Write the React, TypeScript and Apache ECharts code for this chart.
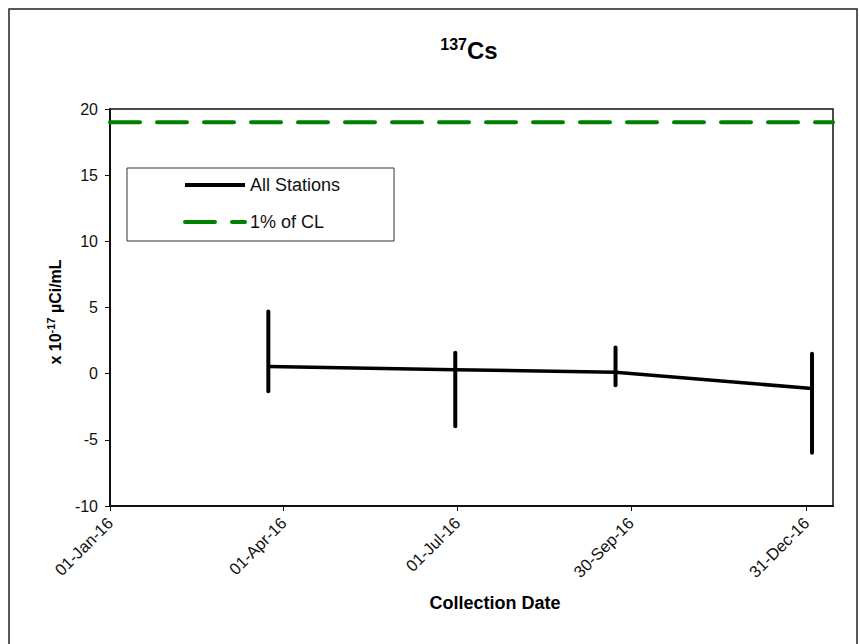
import React, { useEffect, useRef } from 'react';
import * as echarts from 'echarts';

// ---- data ----
const collectionDates = ['2016-03-24', '2016-06-30', '2016-09-22', '2017-01-03'];
const allStations = [0.55, 0.3, 0.1, -1.12];
const errorHigh = [4.7, 1.58, 1.97, 1.5];
const errorLow = [-1.33, -3.98, -0.88, -5.98];
const clLevel = 19; // 1% of CL
const tickDates = ['2016-01-01', '2016-04-01', '2016-07-01', '2016-09-30', '2016-12-31'];
const axisStart = '2016-01-01';
const axisEnd = '2017-01-14';
const yMin = -10;
const yMax = 20;
const yStep = 5;

const MONTHS = ['Jan', 'Feb', 'Mar', 'Apr', 'May', 'Jun', 'Jul', 'Aug', 'Sep', 'Oct', 'Nov', 'Dec'];
const FONT = '"Liberation Sans", Arial, sans-serif';

const toMs = (d: string) => {
  const [y, m, dd] = d.split('-').map(Number);
  return Date.UTC(y, m - 1, dd);
};
const fmt = (ms: number) => {
  const d = new Date(ms);
  return `${String(d.getUTCDate()).padStart(2, '0')}-${MONTHS[d.getUTCMonth()]}-${String(d.getUTCFullYear()).slice(2)}`;
};

export default function App() {
  const ref = useRef<HTMLDivElement>(null);
  useEffect(() => {
    if (!ref.current) return;
    const chart = echarts.init(ref.current, undefined, { renderer: 'svg' });
    const xs = collectionDates.map(toMs);
    const ticks = tickDates.map(toMs);
    const xMin = toMs(axisStart);
    const xMax = toMs(axisEnd);

    const hiddenSymbol = { color: 'rgba(0,0,0,0)', borderWidth: 0, opacity: 0 };

    const option: any = {
      animation: false,
      backgroundColor: '#fff',
      textStyle: { fontFamily: FONT },
      grid: {
        left: 110,
        top: 109,
        right: 27,
        bottom: 138,
        show: true,
        borderColor: '#111',
        borderWidth: 1.5,
      },
      legend: {
        orient: 'vertical',
        left: 127,
        top: 168,
        padding: [8, 54, 10, 56],
        itemGap: 19,
        itemWidth: 60,
        itemHeight: 14,
        borderColor: '#333',
        borderWidth: 1,
        textStyle: { fontSize: 18, color: '#111', fontFamily: FONT },
        data: [
          {
            name: 'All Stations',
            itemStyle: hiddenSymbol,
            lineStyle: { color: '#000', width: 4, type: 'solid' },
          },
          {
            name: '1% of CL',
            itemStyle: hiddenSymbol,
            lineStyle: { color: '#008000', width: 4, type: [30, 17], cap: 'round' },
          },
        ],
      },
      xAxis: {
        type: 'value',
        min: xMin,
        max: xMax,
        splitLine: { show: false },
        axisLine: { onZero: false, lineStyle: { color: '#111', width: 2 } },
        axisTick: { show: true, length: 5, customValues: ticks, lineStyle: { color: '#111', width: 1 } },
        axisLabel: {
          customValues: ticks,
          rotate: 45,
          margin: 14,
          fontSize: 16.5,
          color: '#111',
          fontFamily: FONT,
          formatter: (v: number) => fmt(v),
        },
      },
      yAxis: {
        type: 'value',
        min: yMin,
        max: yMax,
        interval: yStep,
        splitLine: { show: false },
        axisLine: { show: true, lineStyle: { color: '#111', width: 2 } },
        axisTick: { show: true, length: 5, lineStyle: { color: '#111', width: 1 } },
        axisLabel: { fontSize: 16, color: '#111', margin: 12, fontFamily: FONT },
      },
      graphic: [
        {
          type: 'rect',
          shape: { x: 9, y: 9, width: 848, height: 645 },
          style: { fill: 'none', stroke: '#222', lineWidth: 1.5 },
          silent: true,
        },
        {
          type: 'text',
          x: 469,
          y: 50,
          style: {
            text: '{sup|137}{main|Cs}',
            align: 'center',
            verticalAlign: 'middle',
            rich: {
              sup: { fontSize: 16, fontWeight: 'bold', lineHeight: 16, verticalAlign: 'top', fill: '#000', fontFamily: FONT },
              main: { fontSize: 24, fontWeight: 'bold', lineHeight: 28, fill: '#000', fontFamily: FONT },
            },
          },
        },
        {
          type: 'text',
          x: 55,
          y: 312,
          rotation: Math.PI / 2,
          style: {
            text: '{n|x 10}{sup|-17}{n| µCi/mL}',
            align: 'center',
            verticalAlign: 'middle',
            rich: {
              n: { fontSize: 16, fontWeight: 'bold', lineHeight: 20, fill: '#000', fontFamily: FONT },
              sup: { fontSize: 11, fontWeight: 'bold', lineHeight: 11, verticalAlign: 'top', fill: '#000', fontFamily: FONT },
            },
          },
        },
        {
          type: 'text',
          x: 495,
          y: 603,
          style: {
            text: 'Collection Date',
            align: 'center',
            verticalAlign: 'middle',
            fontSize: 18,
            fontWeight: 'bold',
            fill: '#000',
            fontFamily: FONT,
          },
        },
      ],
      series: [
        {
          name: '1% of CL',
          type: 'line',
          symbol: 'none',
          data: [
            [xMin, clLevel],
            [xMax, clLevel],
          ],
          lineStyle: { color: '#008000', width: 4, type: [30, 17], cap: 'round' },
          itemStyle: { color: '#008000' },
          z: 2,
        },
        {
          name: 'All Stations',
          type: 'line',
          symbol: 'none',
          data: xs.map((x, i) => [x, allStations[i]]),
          lineStyle: { color: '#000', width: 3.5 },
          itemStyle: { color: '#000' },
          z: 3,
        },
        {
          name: 'errors',
          type: 'custom',
          data: xs.map((x, i) => [x, errorLow[i], errorHigh[i]]),
          renderItem: (_params: any, api: any) => {
            const p1 = api.coord([api.value(0), api.value(1)]);
            const p2 = api.coord([api.value(0), api.value(2)]);
            return {
              type: 'line',
              shape: { x1: p1[0], y1: p1[1], x2: p2[0], y2: p2[1] },
              style: { stroke: '#000', lineWidth: 4, lineCap: 'round' },
            };
          },
          z: 4,
        },
      ],
    };
    chart.setOption(option);
    return () => chart.dispose();
  }, []);

  return (
    <div
      ref={ref}
      style={{ position: 'absolute', left: 0, top: 0, width: 860, height: 644, background: '#fff' }}
    />
  );
}
